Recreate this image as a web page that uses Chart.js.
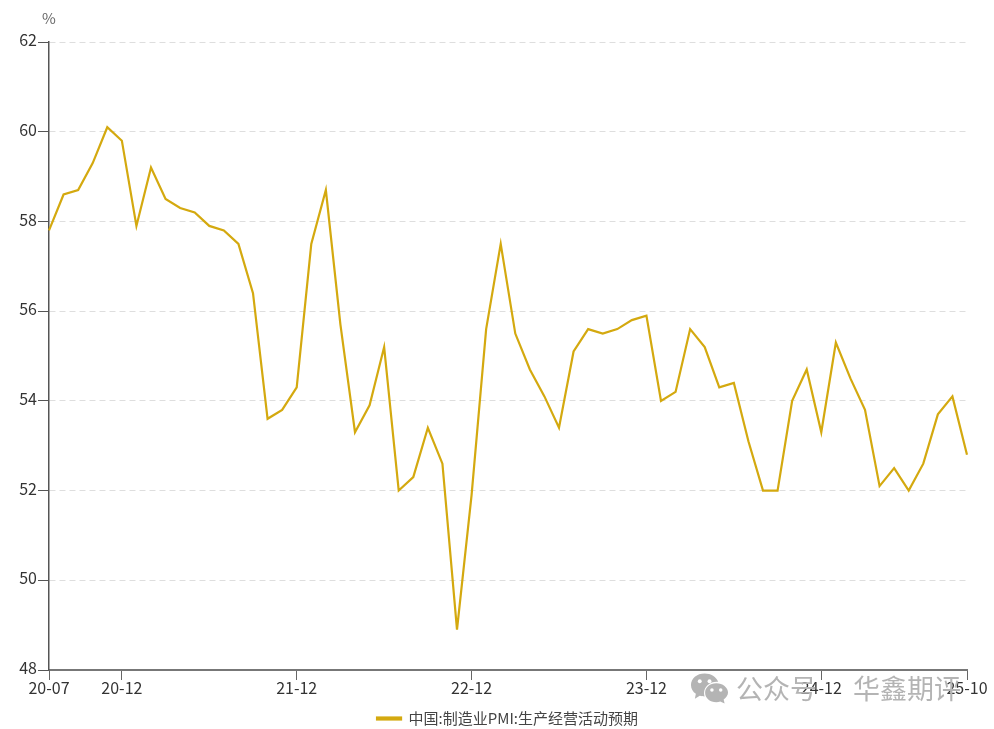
<!DOCTYPE html>
<html>
<head>
<meta charset="utf-8">
<style>
  body { margin: 0; background: #fff; }
  #wrap { position: relative; width: 994px; height: 729px; font-family: "Noto Sans CJK SC", "Noto Sans", sans-serif; }
  #unit { position: absolute; left: 42px; top: 8px; font-size: 15px; line-height: 20px; color: #666; }
  #mark { position: absolute; left: 690px; top: 670px; height: 36px; display: flex; align-items: center; color: #b4b4b4; pointer-events: none; }
  #mark span { font-size: 27px; letter-spacing: 0; line-height: 34px; }
  #mark svg { margin-right: 7px; }
</style>
<script src="https://cdn.jsdelivr.net/npm/chart.js@4"></script>
</head>
<body>
<div id="wrap">
  <canvas id="chart" width="994" height="729"></canvas>
  <div id="unit">%</div>
  <div id="mark">
    <svg width="39" height="32" viewBox="0 0 40 32">
      <path fill="#b4b4b4" d="M15 1C7 1 1 6 1 13c0 4 2 7 5 9l-1 5 5-3c2 .5 3 .6 5 .6-.5-1.500-.6-2.500-.6-3.600 0-6.500 5.800-11.500 13-11.500h1.500C27 4.500 21.500 1 15 1z"/>
      <path fill="#b4b4b4" d="M27 11c-6.500 0-11.500 4.300-11.500 9.800S20.500 30.500 27 30.500c1.500 0 2.800-.2 4-.6l4.500 2.100-1-4.200c2.700-1.800 4.500-4.500 4.500-7.200C39 15.300 33.500 11 27 11z"/>
      <circle cx="10" cy="9" r="2" fill="#fff"/><circle cx="20" cy="9" r="2" fill="#fff"/>
      <circle cx="22.500" cy="18" r="1.800" fill="#fff"/><circle cx="31.500" cy="18" r="1.800" fill="#fff"/>
    </svg>
    <span>公众号</span><span style="margin-left:36px">华鑫期评</span>
  </div>
</div>
<script>
const categories = [
  '20-07','20-08','20-09','20-10','20-11','20-12',
  '21-01','21-02','21-03','21-04','21-05','21-06','21-07','21-08','21-09','21-10','21-11','21-12',
  '22-01','22-02','22-03','22-04','22-05','22-06','22-07','22-08','22-09','22-10','22-11','22-12',
  '23-01','23-02','23-03','23-04','23-05','23-06','23-07','23-08','23-09','23-10','23-11','23-12',
  '24-01','24-02','24-03','24-04','24-05','24-06','24-07','24-08','24-09','24-10','24-11','24-12',
  '25-01','25-02','25-03','25-04','25-05','25-06','25-07','25-08','25-09','25-10'
];
const pmiExpect = [
  57.8,58.6,58.7,59.3,60.1,59.8,
  57.9,59.2,58.5,58.3,58.2,57.9,57.8,57.5,56.4,53.6,53.8,54.3,
  57.5,58.7,55.7,53.3,53.9,55.2,52.0,52.3,53.4,52.6,48.9,51.9,
  55.6,57.5,55.5,54.7,54.1,53.4,55.1,55.6,55.5,55.6,55.8,55.9,
  54.0,54.2,55.6,55.2,54.3,54.4,53.1,52.0,52.0,54.0,54.7,53.3,
  55.3,54.5,53.8,52.1,52.5,52.0,52.6,53.7,54.1,52.8
];
const xTickLabels = ['20-07','20-12','21-12','22-12','23-12','24-12','25-10'];
const yTicks = [48,50,52,54,56,58,60,62];
const seriesName = '中国:制造业PMI:生产经营活动预期';

const lineColor = '#d4a90f';
const fontFamily = '"Noto Sans CJK SC", "Noto Sans", sans-serif';

// legend sits centred on the page in the original, nudge it off the layout box
const moveLegend = {
  id: 'moveLegend',
  afterLayout(chart) {
    chart.legend.left += 24;
    chart.legend.right += 24;
    chart.legend.top += 8;
    chart.legend.bottom += 8;
  }
};

new Chart(document.getElementById('chart'), {
  type: 'line',
  data: {
    labels: categories,
    datasets: [{
      label: seriesName,
      data: pmiExpect,
      borderColor: lineColor,
      backgroundColor: lineColor,
      borderWidth: 2.2,
      pointRadius: 0,
      tension: 0
    }]
  },
  plugins: [moveLegend],
  options: {
    responsive: false,
    animation: false,
    layout: { padding: { left: 0, right: 27, top: 42, bottom: 1 } },
    plugins: {
      tooltip: { enabled: false },
      legend: {
        position: 'bottom',
        labels: {
          boxWidth: 24,
          boxHeight: 2,
          color: '#444',
          font: { family: fontFamily, size: 15 },
          padding: 2
        }
      }
    },
    scales: {
      x: {
        offset: false,
        afterBuildTicks: (axis) => {
          axis.ticks = axis.ticks.filter(t => xTickLabels.includes(categories[t.value]));
        },
        afterFit: (axis) => { axis.height = 31; },
        ticks: {
          autoSkip: false,
          maxRotation: 0,
          color: '#333',
          padding: -2,
          font: { family: fontFamily, size: 16 }
        },
        grid: { drawOnChartArea: false, tickLength: 10, tickColor: '#666' },
        border: { color: '#777', width: 2 }
      },
      y: {
        min: 48,
        max: 62,
        afterBuildTicks: (axis) => { axis.ticks = yTicks.map(v => ({ value: v })); },
        afterFit: (axis) => { axis.width = 49; },
        ticks: {
          color: '#333',
          padding: 1,
          labelOffset: -2,
          font: { family: fontFamily, size: 16 }
        },
        grid: { color: '#dedede', tickLength: 11, tickColor: '#555', tickBorderDash: [] },
        border: { color: '#555', width: 1.5, dash: [6, 4] }
      }
    }
  }
});
</script>
</body>
</html>
